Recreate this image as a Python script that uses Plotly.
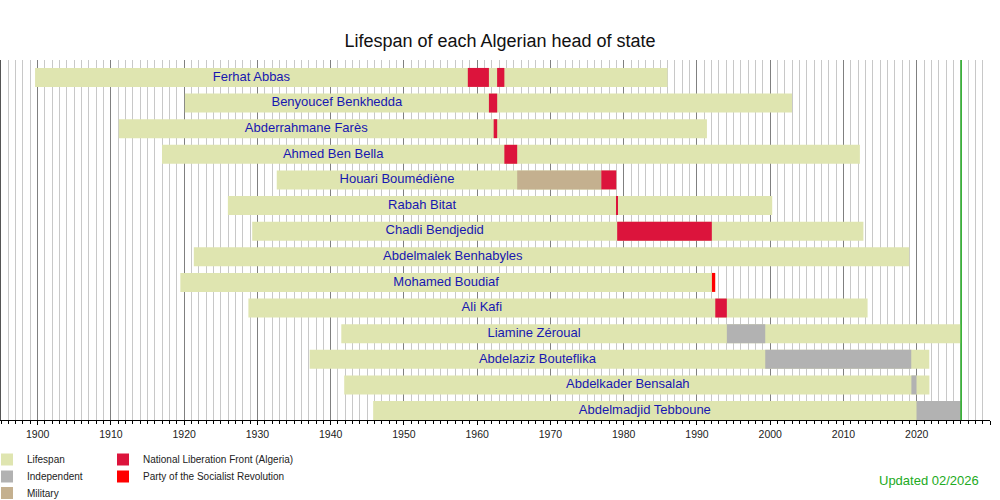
import plotly.graph_objects as go

UPDATE = 2026.06  # "Updated 02/2026"

names = ["Ferhat Abbas", "Benyoucef Benkhedda", "Abderrahmane Farès", "Ahmed Ben Bella",
         "Houari Boumédiène", "Rabah Bitat", "Chadli Bendjedid", "Abdelmalek Benhabyles",
         "Mohamed Boudiaf", "Ali Kafi", "Liamine Zéroual", "Abdelaziz Bouteflika",
         "Abdelkader Bensalah", "Abdelmadjid Tebboune"]
birth = [1899.65, 1920.10, 1911.08, 1916.98, 1932.64, 1925.97, 1929.29, 1921.32,
         1919.48, 1928.77, 1941.45, 1937.13, 1941.85, 1945.80]
death = [1985.98, 2002.97, 1991.36, 2012.24, 1978.99, 2000.27, 2012.72, 2018.97,
         1992.49, 2013.29, None, 2021.71, 2021.73, None]

# terms: person index, start, end, party
term_person = [0, 0, 1, 2, 3, 4, 4, 5, 6, 7, 8, 9, 10, 11, 12, 13]
term_start = [1958.72, 1962.72, 1961.60, 1962.25, 1963.71, 1965.46, 1976.94, 1978.99,
              1979.11, 1992.03, 1992.04, 1992.50, 1994.08, 1999.32, 2019.27, 2019.97]
term_end = [1961.60, 1963.71, 1962.73, 1962.73, 1965.46, 1976.94, 1978.99, 1979.11,
            1992.03, 1992.03, 1992.49, 1994.08, 1999.32, 2019.25, 2019.97, None]
term_party = ["FLN", "FLN", "FLN", "FLN", "FLN", "MIL", "FLN", "FLN",
              "FLN", "IND", "PSR", "FLN", "IND", "IND", "IND", "IND"]

parties = ["IND", "MIL", "FLN", "PSR"]
party_names = {"IND": "Independent", "MIL": "Military",
               "FLN": "National Liberation Front (Algeria)", "PSR": "Party of the Socialist Revolution"}
party_colors = {"IND": "#b2b2b2", "MIL": "#c4b08f", "FLN": "#dc143c", "PSR": "#ff0000"}
LIFE_COLOR = "#dfe5b0"

# one legend box per entry: (legend id, column x px, row top px)
legend_slots = {"Lifespan": ("legend", -14, 445), "IND": ("legend2", -14, 462),
                "MIL": ("legend3", -14, 478.5), "FLN": ("legend4", 102, 445),
                "PSR": ("legend5", 102, 462)}

rows = list(range(len(names)))
end_life = [d if d is not None else UPDATE for d in death]
tend = [e if e is not None else UPDATE for e in term_end]

fig = go.Figure()
fig.add_trace(go.Bar(
    orientation="h", y=rows, base=birth, x=[e - b for b, e in zip(birth, end_life)],
    width=0.74, marker=dict(color=LIFE_COLOR, line=dict(width=0)),
    name="Lifespan", legend=legend_slots["Lifespan"][0], hoverinfo="skip"))

for p in parties:
    idx = [i for i, q in enumerate(term_party) if q == p and tend[i] > term_start[i]]
    fig.add_trace(go.Bar(
        orientation="h", y=[term_person[i] for i in idx],
        base=[term_start[i] for i in idx],
        x=[tend[i] - term_start[i] for i in idx],
        width=0.74, marker=dict(color=party_colors[p], line=dict(width=0)),
        name=party_names[p], legend=legend_slots[p][0], hoverinfo="skip"))

# label position: between birth and start of first term
first_start = []
for r in rows:
    first_start.append(min(term_start[i] for i in range(len(term_person)) if term_person[i] == r))
label_x = [(b + s) / 2 for b, s in zip(birth, first_start)]
fig.add_trace(go.Scatter(
    x=label_x, y=rows, mode="text", text=names, textposition="middle center",
    textfont=dict(family="Liberation Sans, Arial, sans-serif", size=13, color="#1717b0"),
    showlegend=False, hoverinfo="skip"))

fig.add_shape(type="line", x0=UPDATE, x1=UPDATE, xref="x", y0=0, y1=1, yref="paper",
              line=dict(color="#22aa22", width=1.5), layer="above")

fig.add_annotation(text="Updated 02/2026", xref="paper", yref="paper",
                   x=0.991, y=-0.169, xanchor="right", yanchor="middle", showarrow=False,
                   font=dict(family="Liberation Sans, Arial, sans-serif", size=13, color="#22aa22"))

PLOT_W, PLOT_H, PLOT_L, PLOT_B = 989, 360, 1, 420
legend_layout = {}
for key, (lid, px, py) in legend_slots.items():
    legend_layout[lid] = dict(x=(px - PLOT_L + 1) / PLOT_W, xanchor="left",
                              y=-(py - PLOT_B) / PLOT_H, yanchor="top", orientation="v",
                              font=dict(size=10, color="#222"), bgcolor="rgba(0,0,0,0)",
                              tracegroupgap=0, itemwidth=30)

fig.update_layout(
    width=1000, height=500,
    margin=dict(l=PLOT_L, r=10, t=60, b=80, autoexpand=False),
    paper_bgcolor="white", plot_bgcolor="white",
    barmode="overlay",
    font=dict(family="Liberation Sans, Arial, sans-serif", color="#222"),
    title=dict(text="Lifespan of each Algerian head of state", x=0.5, xanchor="center",
               y=1 - 41 / 500, yanchor="middle", yref="container",
               font=dict(size=18, color="#111")),
    xaxis=dict(range=[1895, 2030], tick0=1900, dtick=10, showgrid=True, gridcolor="#808080",
               gridwidth=1, ticks="outside", ticklen=4, tickcolor="#000",
               showline=True, linecolor="#000", linewidth=1, zeroline=False,
               tickfont=dict(size=10.5, color="#222"),
               minor=dict(dtick=1, tick0=1900, showgrid=True, gridcolor="#c8c8c8",
                          ticks="outside", ticklen=3, tickcolor="#000")),
    yaxis=dict(range=[13.37, -0.68], showticklabels=False, showgrid=False, zeroline=False,
               showline=True, linecolor="#555", linewidth=1, ticks=""),
    **legend_layout,
)

fig.write_html("out.html", config={"displayModeBar": False},
               post_script="document.body.style.margin='0';")
